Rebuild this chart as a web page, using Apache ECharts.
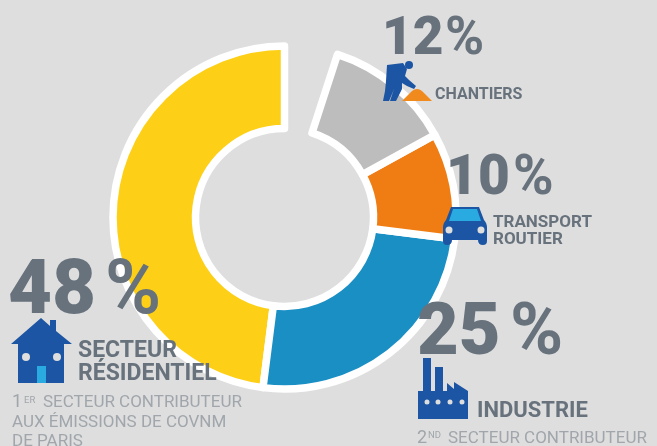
<!DOCTYPE html>
<html><head><meta charset="utf-8">
<style>html,body{margin:0;padding:0;background:#dedede;overflow:hidden}#c{width:657px;height:446px}</style>
<script src="https://cdn.jsdelivr.net/npm/echarts@6/dist/echarts.min.js"></script>
</head><body><div id="c"></div>
<script>
const categories = ['Secteur résidentiel','Industrie','Transport routier','Chantiers','Autres'];
const values = [48,25,10,12,5];
const colors = ['#fdd017','#1a8fc4','#f07d14','#bdbdbd','none'];
const DARK='#67727c', LIGHT='#a0a6ab', BLUE='#1c55a3', SKY='#29abe2', ORANGE='#f08a1c', BG='#dedede';
const icons = {
  house:'M0 26 L30 0 L39 8 L39 2 L45 2 L45 13 L61 26 L53 26 L53 65 L7 65 L7 26 Z',
  factory:'M5 0 H13 V33 H17 V9 H25 V33 H29 V25 L36 31 V24 L50 33 V61 H0 V33 H5 Z',
  car:'M8 0 H36 L41 13 Q44 16 44 21 V34 Q44 38 40 38 Q35 38 35 33 H9 Q9 38 4 38 Q0 38 0 34 V21 Q0 16 3 13 Z',
  windshield:'M10 2 H34 L38 14 H6 Z',
  worker:'M4 4 L20 2 L24 8 L22 15 L26 19 L33 25 L31 28 L24 25 L19 22 L19 28 L13 40 L7 40 L11 28 L9 33 L6 40 L0 40 L2 30 L3 20 Z',
  pile:'M0 13 L10 3 Q15 -1 20 3 L30 13 Z'
};
Object.keys(icons).forEach(k=>echarts.graphic.registerShape('ic_'+k,echarts.graphic.extendPath(icons[k])));
const chart = echarts.init(document.getElementById('c'));
function T(x,base,text,size,fill,weight){
  return {type:'text',z:10,x,y:base-0.735*size,style:{text,fontFamily:'Roboto',fontSize:size,fontWeight:weight||'normal',fill}};
}
function P(k,x,y,fill){ return {type:'ic_'+k,z:9,x,y,style:{fill}}; }
function C(cx,cy,r,fill){ return {type:'circle',z:10,shape:{cx,cy,r},style:{fill}}; }
chart.setOption({
  backgroundColor:BG,
  animation:false,
  series:[{
    type:'pie',
    center:[284.5,217.5],
    radius:[89,171.5],
    startAngle:90,
    clockwise:false,
    silent:true,
    label:{show:false},labelLine:{show:false},
    itemStyle:{borderColor:'#ffffff',borderWidth:7.5},
    data:categories.map((name,i)=>({name,value:values[i],itemStyle:colors[i]==='none'?{color:'transparent',borderColor:'transparent',borderWidth:0}:{color:colors[i]}}))
  }],
  graphic:[
    T(382,53,String(values[3]),53,DARK,900), T(445,53,'%',53,DARK,'bold'),
    T(446,193,String(values[2]),55,DARK,900), T(513,193,'%',55,DARK,'bold'),
    T(417,353,String(values[1]),72,DARK,900), T(510,353,'%',72,DARK,'bold'),
    T(8,312,String(values[0]),76,DARK,900), T(105,312,'%',76,DARK,'bold'),
    T(435,99,'CHANTIERS',16,DARK,'bold'),
    T(493,227,'TRANSPORT',17,DARK,'bold'),
    T(493,244,'ROUTIER',17,DARK,'bold'),
    T(477,417,'INDUSTRIE',22,DARK,'bold'),
    T(78,357,'SECTEUR',23,DARK,'bold'),
    T(78,380,'RÉSIDENTIEL',23,DARK,'bold'),
    T(12,407,'1',18,LIGHT), T(24,403,'ER',9.5,LIGHT), T(43,407,'SECTEUR CONTRIBUTEUR',17,LIGHT),
    T(12,427,'AUX ÉMISSIONS DE COVNM',17,LIGHT),
    T(12,446,'DE PARIS',17,LIGHT),
    T(417,443,'2',18,LIGHT), T(428,438,'ND',9.5,LIGHT), T(448,443,'SECTEUR CONTRIBUTEUR',17,LIGHT),
    P('house',11,318,BLUE),
    C(26,357,4,BG), C(57,357,4,BG),
    {type:'rect',z:10,shape:{x:37,y:366,width:9,height:17},style:{fill:SKY}},
    P('factory',418,358,BLUE),
    C(427,402,2.5,BG), C(438,402,2.5,BG), C(450,402,2.5,BG), C(462,402,2.5,BG),
    P('car',443,207,BLUE),
    P('windshield',443,207,SKY),
    C(449,230,3.5,BG), C(481,230,3.5,BG),
    P('worker',383,61,BLUE),
    C(409,65,4,BLUE),
    P('pile',402,88,ORANGE)
  ]
});
</script></body></html>
